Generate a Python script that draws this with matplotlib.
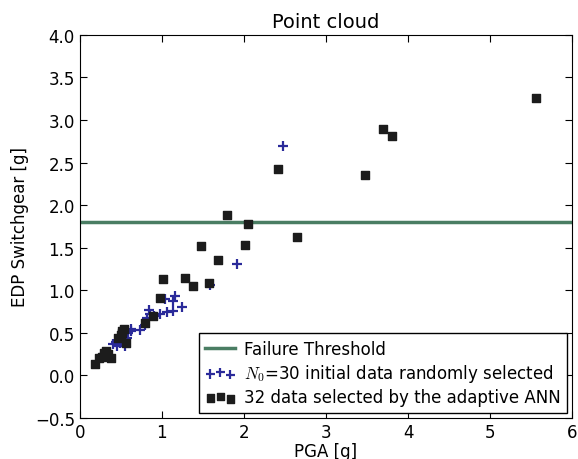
import matplotlib
matplotlib.use('Agg')
import matplotlib.pyplot as plt

plt.rcParams['mathtext.fontset'] = 'cm'

threshold = 1.8

init_pga = [0.30, 0.35, 0.41, 0.44, 0.455, 0.48, 0.49, 0.50, 0.52, 0.55,
            0.57, 0.59, 0.62, 0.63, 0.73, 0.80, 0.82, 0.845, 0.85, 0.91,
            0.976, 1.04, 1.06, 1.13, 1.14, 1.16, 1.24, 1.59, 1.91, 2.48]
init_edp = [0.25, 0.28, 0.37, 0.39, 0.35, 0.42, 0.38, 0.45, 0.40, 0.35,
            0.44, 0.50, 0.52, 0.55, 0.54, 0.59, 0.67, 0.77, 0.72, 0.70,
            0.72, 0.90, 0.75, 0.76, 0.87, 0.93, 0.80, 1.06, 1.31, 2.69]

ann_pga = [0.19, 0.23, 0.27, 0.30, 0.32, 0.35, 0.38, 0.47, 0.50, 0.52,
           0.54, 0.56, 0.79, 0.89, 0.976, 1.02, 1.28, 1.38, 1.58, 1.48,
           2.01, 1.68, 1.79, 2.05, 2.65, 2.42, 3.48, 3.69, 3.81, 5.56,
           0.51, 0.33]
ann_edp = [0.14, 0.20, 0.22, 0.26, 0.29, 0.25, 0.21, 0.44, 0.48, 0.52,
           0.55, 0.38, 0.62, 0.695, 0.91, 1.13, 1.14, 1.05, 1.09, 1.52,
           1.53, 1.36, 1.88, 1.78, 1.63, 2.43, 2.35, 2.90, 2.81, 3.26,
           0.50, 0.23]

fig = plt.figure(figsize=(5.78, 4.6), dpi=100)
ax = fig.add_axes([0.138, 0.089, 0.852, 0.833])

ax.axhline(threshold, color='#4a7d63', lw=2.5, label='Failure Threshold', zorder=1)
ax.scatter(init_pga, init_edp, marker='+', s=45, color='#2a2a9a', linewidths=1.6,
           label='$N_0$=30 initial data randomly selected', zorder=2)
ax.scatter(ann_pga, ann_edp, marker='s', s=30, color='#1c1c1c',
           label='32 data selected by the adaptive ANN', zorder=3)

ax.set_xlim(0, 6)
ax.set_ylim(-0.5, 4.0)
ax.set_xticks([0, 1, 2, 3, 4, 5, 6])
ax.set_yticks([-0.5, 0.0, 0.5, 1.0, 1.5, 2.0, 2.5, 3.0, 3.5, 4.0])
ax.tick_params(direction='in', top=True, right=True, labelsize=12, length=5)
ax.set_xlabel('PGA [g]', fontsize=12, labelpad=1)
ax.set_ylabel('EDP Switchgear [g]', fontsize=12)
ax.set_title('Point cloud', fontsize=14)

ax.legend(loc='lower right', scatterpoints=3, fontsize=12, fancybox=False,
          edgecolor='black', framealpha=1, borderaxespad=0.3,
          handletextpad=0.5, labelspacing=0.25, handlelength=1.8,
          scatteryoffsets=[0.375, 0.5, 0.3125])

fig.savefig('out.png', dpi=100)
